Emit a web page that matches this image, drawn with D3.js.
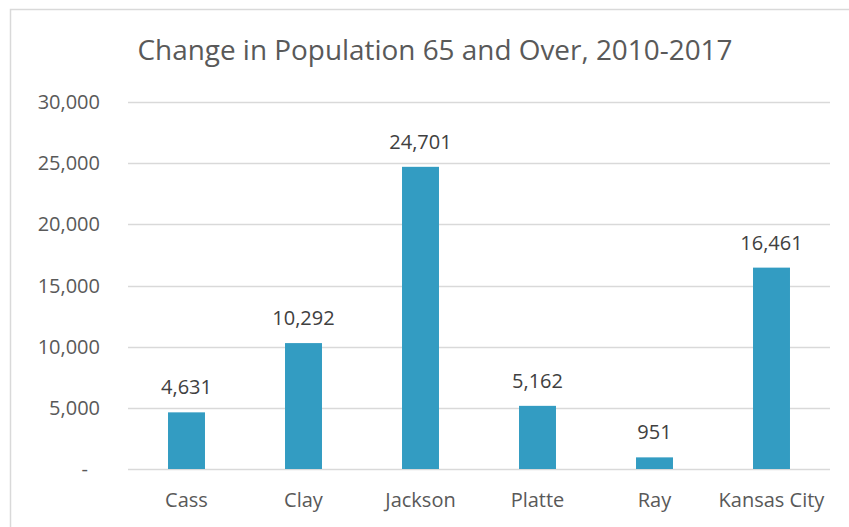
<!DOCTYPE html>
<html>
<head>
<meta charset="utf-8">
<script src="https://cdn.jsdelivr.net/npm/d3@7"></script>
<style>
  html, body { margin: 0; padding: 0; background: #fff; }
  text { font-family: "Open Sans", "Noto Sans", sans-serif; }
</style>
</head>
<body>
<div id="viz"></div>
<script>
// chart data
var categories = ["Cass", "Clay", "Jackson", "Platte", "Ray", "Kansas City"];
var values = [4631, 10292, 24701, 5162, 951, 16461];
var yTicks = [0, 5000, 10000, 15000, 20000, 25000, 30000];
var title = "Change in Population 65 and Over, 2010-2017";

var W = 849, H = 527;
var plotLeft = 128, plotRight = 830, plotTop = 102, plotBottom = 469;
var barColor = "#339cc2";
var textColor = "#595959";

var svg = d3.select("#viz").append("svg")
    .attr("width", W).attr("height", H);

svg.append("rect").attr("width", W).attr("height", H).attr("fill", "#fff");

// chart frame (only left and top edges show in the reference)
svg.append("rect")
    .attr("x", 10.5).attr("y", 9.5)
    .attr("width", W + 20).attr("height", H + 20)
    .attr("fill", "none").attr("stroke", "#d9d9d9").attr("stroke-width", 1.5);

var x = d3.scaleBand()
    .domain(categories)
    .range([plotLeft, plotRight])
    .paddingInner(0.684)
    .paddingOuter(0.342);

var y = d3.scaleLinear()
    .domain([0, 30000])
    .range([plotBottom, plotTop]);

// gridlines
svg.append("g").selectAll("line")
    .data(yTicks)
    .enter().append("line")
    .attr("x1", plotLeft).attr("x2", plotRight)
    .attr("y1", function(d) { return Math.round(y(d)) + 0.5; })
    .attr("y2", function(d) { return Math.round(y(d)) + 0.5; })
    .attr("stroke", "#d9d9d9").attr("stroke-width", 1.5);

// y tick labels
var fmt = d3.format(",");
svg.append("g").selectAll("text")
    .data(yTicks)
    .enter().append("text")
    .attr("x", function(d) { return d == 0 ? 88 : 100; })
    .attr("y", function(d) { return y(d); })
    .attr("dy", "0.35em")
    .attr("text-anchor", "end")
    .attr("font-size", 20)
    .attr("fill", textColor)
    .text(function(d) { return d == 0 ? "-" : fmt(d); });

// bars
svg.append("g").selectAll("rect")
    .data(values)
    .enter().append("rect")
    .attr("x", function(d, i) { return x(categories[i]); })
    .attr("width", x.bandwidth())
    .attr("y", function(d) { return y(d); })
    .attr("height", function(d) { return y(0) - y(d); })
    .attr("fill", barColor);

// value labels
svg.append("g").selectAll("text")
    .data(values)
    .enter().append("text")
    .attr("x", function(d, i) { return x(categories[i]) + x.bandwidth() / 2; })
    .attr("y", function(d) { return y(d) - 18; })
    .attr("text-anchor", "middle")
    .attr("font-size", 20)
    .attr("fill", "#404040")
    .text(function(d) { return fmt(d); });

// category labels
svg.append("g").selectAll("text")
    .data(categories)
    .enter().append("text")
    .attr("x", function(d) { return x(d) + x.bandwidth() / 2; })
    .attr("y", 507)
    .attr("text-anchor", "middle")
    .attr("font-size", 20)
    .attr("fill", textColor)
    .text(function(d) { return d; });

// title
svg.append("text")
    .attr("x", 435).attr("y", 60)
    .attr("text-anchor", "middle")
    .attr("font-size", 27)
    .attr("textLength", 595)
    .attr("lengthAdjust", "spacingAndGlyphs")
    .attr("fill", textColor)
    .text(title);
</script>
</body>
</html>
